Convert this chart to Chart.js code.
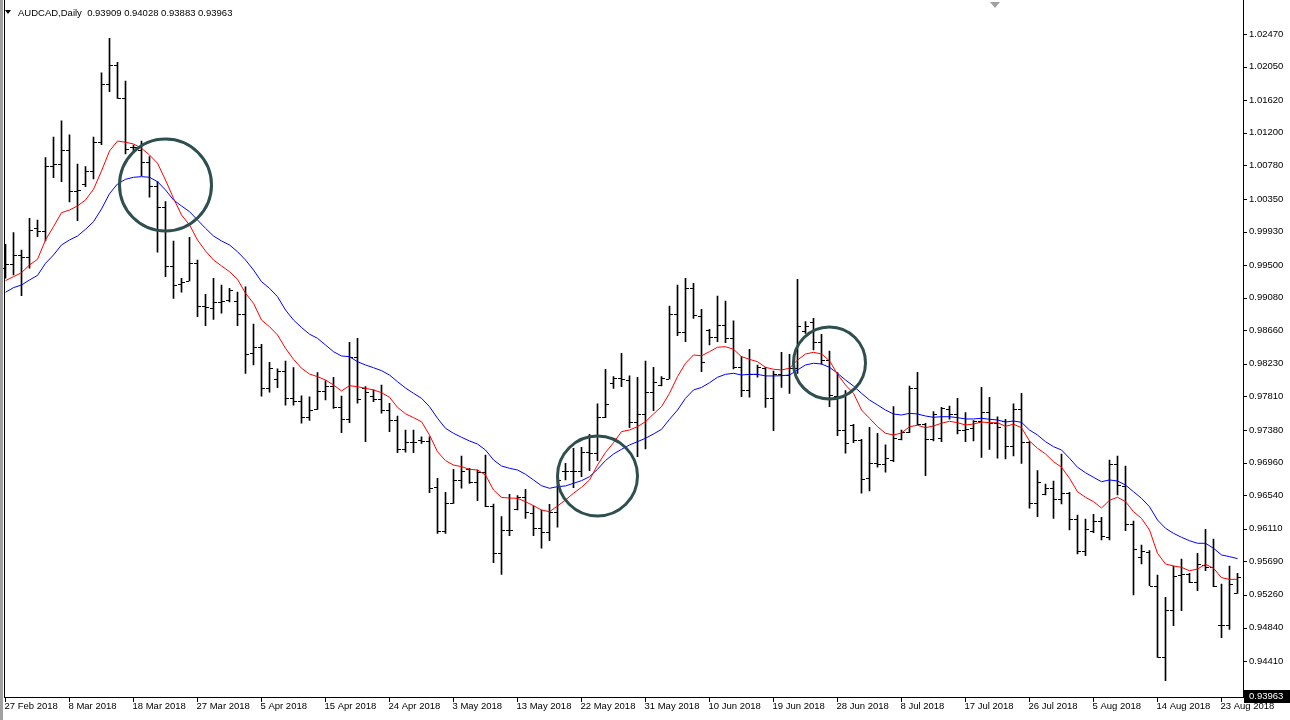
<!DOCTYPE html>
<html><head><meta charset="utf-8">
<script src="https://cdn.jsdelivr.net/npm/chart.js@4.4.1/dist/chart.umd.min.js"></script>
<style>html,body{margin:0;padding:0;background:#fff;overflow:hidden}#wrap{position:relative;width:1290px;height:720px}canvas{display:block}</style>
</head><body><div id="wrap"><canvas id="c" width="1290" height="720"></canvas></div>
<script>
// ---- data ----
const dates = [
'27 Feb 2018','28 Feb 2018','1 Mar 2018','2 Mar 2018','4 Mar 2018','5 Mar 2018','6 Mar 2018','7 Mar 2018','8 Mar 2018','9 Mar 2018',
'11 Mar 2018','12 Mar 2018','13 Mar 2018','14 Mar 2018','15 Mar 2018','16 Mar 2018','18 Mar 2018','19 Mar 2018','20 Mar 2018','21 Mar 2018',
'22 Mar 2018','23 Mar 2018','25 Mar 2018','26 Mar 2018','27 Mar 2018','28 Mar 2018','29 Mar 2018','30 Mar 2018','1 Apr 2018','2 Apr 2018',
'3 Apr 2018','4 Apr 2018','5 Apr 2018','6 Apr 2018','8 Apr 2018','9 Apr 2018','10 Apr 2018','11 Apr 2018','12 Apr 2018','13 Apr 2018',
'15 Apr 2018','16 Apr 2018','17 Apr 2018','18 Apr 2018','19 Apr 2018','20 Apr 2018','22 Apr 2018','23 Apr 2018','24 Apr 2018','25 Apr 2018',
'26 Apr 2018','27 Apr 2018','29 Apr 2018','30 Apr 2018','1 May 2018','2 May 2018','3 May 2018','4 May 2018','6 May 2018','7 May 2018',
'8 May 2018','9 May 2018','10 May 2018','11 May 2018','13 May 2018','14 May 2018','15 May 2018','16 May 2018','17 May 2018','18 May 2018',
'20 May 2018','21 May 2018','22 May 2018','23 May 2018','24 May 2018','25 May 2018','27 May 2018','28 May 2018','29 May 2018','30 May 2018',
'31 May 2018','1 Jun 2018','3 Jun 2018','4 Jun 2018','5 Jun 2018','6 Jun 2018','7 Jun 2018','8 Jun 2018','10 Jun 2018','11 Jun 2018',
'12 Jun 2018','13 Jun 2018','14 Jun 2018','15 Jun 2018','17 Jun 2018','18 Jun 2018','19 Jun 2018','20 Jun 2018','21 Jun 2018','22 Jun 2018',
'24 Jun 2018','25 Jun 2018','26 Jun 2018','27 Jun 2018','28 Jun 2018','29 Jun 2018','1 Jul 2018','2 Jul 2018','3 Jul 2018','4 Jul 2018',
'5 Jul 2018','6 Jul 2018','8 Jul 2018','9 Jul 2018','10 Jul 2018','11 Jul 2018','12 Jul 2018','13 Jul 2018','15 Jul 2018','16 Jul 2018',
'17 Jul 2018','18 Jul 2018','19 Jul 2018','20 Jul 2018','22 Jul 2018','23 Jul 2018','24 Jul 2018','25 Jul 2018','26 Jul 2018','27 Jul 2018',
'29 Jul 2018','30 Jul 2018','31 Jul 2018','1 Aug 2018','2 Aug 2018','3 Aug 2018','5 Aug 2018','6 Aug 2018','7 Aug 2018','8 Aug 2018',
'9 Aug 2018','10 Aug 2018','12 Aug 2018','13 Aug 2018','14 Aug 2018','15 Aug 2018','16 Aug 2018','17 Aug 2018','19 Aug 2018','20 Aug 2018',
'21 Aug 2018','22 Aug 2018','23 Aug 2018','24 Aug 2018','26 Aug 2018'];

const xTickLabels = ['27 Feb 2018','8 Mar 2018','18 Mar 2018','27 Mar 2018','5 Apr 2018','15 Apr 2018','24 Apr 2018','3 May 2018',
'13 May 2018','22 May 2018','31 May 2018','10 Jun 2018','19 Jun 2018','28 Jun 2018','8 Jul 2018','17 Jul 2018','26 Jul 2018',
'5 Aug 2018','14 Aug 2018','23 Aug 2018'];

const yTickValues = [1.02470,1.02050,1.01620,1.01200,1.00780,1.00350,0.99930,0.99500,0.99080,0.98660,
0.98230,0.97810,0.97380,0.96960,0.96540,0.96110,0.95690,0.95260,0.94840,0.94410];

const openP = [
0.99462,0.99509,0.99625,0.99607,0.99972,0.99934,1.00769,1.00795,1.00979,1.00448,
1.00542,1.00705,1.01078,1.01827,1.02071,1.01651,1.01021,1.00979,1.00821,1.00516,
1.00242,0.99488,0.99256,0.99295,0.99522,0.98973,0.98952,0.99025,0.99051,0.99038,
0.98867,0.98365,0.98443,0.97923,0.98035,0.98138,0.97791,0.97752,0.97543,0.97645,
0.97881,0.97945,0.97679,0.97521,0.98322,0.97915,0.97816,0.97774,0.97636,0.97508,
0.97135,0.97221,0.97251,0.97238,0.96651,0.96085,0.96437,0.96737,0.96874,0.96707,
0.96843,0.96402,0.95794,0.96094,0.96360,0.96522,0.96309,0.96116,0.96072,0.96321,
0.96852,0.96852,0.96852,0.97100,0.97088,0.97550,0.97980,0.98052,0.98022,0.97478,
0.97581,0.97864,0.97958,0.98035,0.98871,0.98639,0.99201,0.98849,0.98665,0.98571,
0.98729,0.98558,0.98185,0.97894,0.98095,0.98173,0.97795,0.98095,0.98086,0.98173,
0.98652,0.98772,0.98515,0.98279,0.97816,0.97376,0.97444,0.97251,0.96759,0.96959,
0.96942,0.96994,0.97264,0.97354,0.97915,0.97453,0.97260,0.97277,0.97645,0.97585,
0.97379,0.97401,0.97495,0.97607,0.97466,0.97491,0.97178,0.97645,0.97229,0.96437,
0.96553,0.96630,0.96492,0.96566,0.96231,0.95828,0.96085,0.96213,0.96008,0.96938,
0.96660,0.96167,0.95743,0.95815,0.95378,0.94457,0.95065,0.95515,0.95528,0.95429,
0.95644,0.95622,0.94873,0.94873,0.95288];

const highP = [
0.99767,0.99916,0.99693,1.00101,1.00079,1.00880,1.01146,1.01352,1.01172,1.00799,
1.00764,1.01146,1.01972,1.02415,1.02106,1.01866,1.01043,1.01094,1.00893,1.00571,
1.00314,0.99809,0.99330,0.99857,0.99565,0.99124,0.99330,0.99243,0.99201,0.99153,
0.99218,0.98742,0.98481,0.98250,0.98164,0.98266,0.98180,0.97820,0.97807,0.98116,
0.98013,0.98057,0.97816,0.98507,0.98558,0.97936,0.97894,0.97958,0.97723,0.97559,
0.97379,0.97379,0.97293,0.97293,0.96759,0.96579,0.96874,0.97045,0.96887,0.96865,
0.97058,0.96428,0.96265,0.96553,0.96535,0.96617,0.96406,0.96351,0.96424,0.96779,
0.96951,0.97144,0.97157,0.97324,0.97714,0.98160,0.98065,0.98365,0.98074,0.98057,
0.98266,0.98185,0.98065,0.98973,0.99243,0.99330,0.99265,0.98931,0.98674,0.99102,
0.99038,0.98784,0.98322,0.98417,0.98215,0.98185,0.98138,0.98378,0.98353,0.99317,
0.98772,0.98815,0.98610,0.98395,0.98116,0.97885,0.97453,0.97260,0.97414,0.97337,
0.97187,0.97679,0.97379,0.97945,0.98121,0.97466,0.97615,0.97671,0.97688,0.97787,
0.97602,0.97499,0.97928,0.97800,0.97550,0.97517,0.97714,0.97851,0.97229,0.96856,
0.96685,0.96724,0.97071,0.96579,0.96287,0.96235,0.96296,0.96257,0.96994,0.97045,
0.96917,0.96210,0.95901,0.95828,0.95515,0.95229,0.95631,0.95721,0.95537,0.95794,
0.96103,0.95978,0.95400,0.95631,0.95537];

const lowP = [
0.99330,0.99372,0.99106,0.99458,0.99864,0.99809,1.00623,1.00571,1.00310,1.00070,
1.00507,1.00606,1.01047,1.01728,1.01643,1.00927,1.00970,1.00648,1.00371,0.99664,
0.99350,0.99072,0.99150,0.99295,0.98836,0.98720,0.98802,0.98880,0.99025,0.98720,
0.98108,0.98215,0.97813,0.97864,0.97923,0.97697,0.97697,0.97466,0.97502,0.97645,
0.97765,0.97658,0.97345,0.97473,0.97723,0.97229,0.97743,0.97594,0.97358,0.97088,
0.97094,0.97088,0.97208,0.96573,0.96051,0.96051,0.96437,0.96630,0.96694,0.96471,
0.96393,0.95674,0.95524,0.96021,0.96351,0.96244,0.96021,0.95859,0.95956,0.96129,
0.96737,0.96638,0.96779,0.96856,0.96985,0.97538,0.97915,0.97936,0.97409,0.97036,
0.97135,0.97628,0.97945,0.98035,0.98592,0.98515,0.98815,0.98129,0.98472,0.98515,
0.98502,0.98164,0.97807,0.97800,0.98057,0.97671,0.97370,0.97928,0.97851,0.98108,
0.98622,0.98408,0.98224,0.97679,0.97306,0.97080,0.97216,0.96566,0.96595,0.96900,
0.96836,0.96972,0.97251,0.97345,0.97444,0.96792,0.97238,0.97229,0.97517,0.97328,
0.97229,0.97238,0.97028,0.97131,0.97016,0.97007,0.97045,0.96951,0.96373,0.96265,
0.96544,0.96244,0.96428,0.96094,0.95785,0.95764,0.96059,0.95965,0.95965,0.96544,
0.96085,0.95258,0.95657,0.95378,0.94457,0.94157,0.94864,0.95057,0.95416,0.95314,
0.95571,0.95365,0.94709,0.94817,0.95280];

const closeP = [
0.99509,0.99625,0.99607,0.99950,0.99934,1.00769,1.00795,1.00979,1.00448,1.00465,
1.00705,1.01078,1.01827,1.02071,1.01651,1.00992,1.01021,1.00821,1.00516,1.00242,
0.99488,0.99243,0.99286,0.99522,0.98973,0.98961,0.99025,0.99038,0.99175,0.98867,
0.98353,0.98443,0.97923,0.98180,0.98142,0.97791,0.97752,0.97543,0.97636,0.97881,
0.97945,0.97679,0.97521,0.98314,0.97774,0.97872,0.97774,0.97636,0.97508,0.97135,
0.97229,0.97221,0.97238,0.96638,0.96085,0.96437,0.96737,0.96856,0.96707,0.96843,
0.96402,0.95794,0.96094,0.96094,0.96522,0.96325,0.96116,0.96072,0.96321,0.96737,
0.96852,0.96852,0.97100,0.97088,0.97543,0.97710,0.98052,0.98035,0.97478,0.97581,
0.97864,0.98000,0.98044,0.98871,0.98639,0.99201,0.98858,0.98250,0.98571,0.98729,
0.98558,0.98185,0.97894,0.98095,0.98193,0.97795,0.98095,0.98086,0.98173,0.98716,
0.98716,0.98515,0.98279,0.97829,0.97376,0.97208,0.97251,0.96746,0.96959,0.96942,
0.97016,0.97273,0.97358,0.97915,0.97453,0.97260,0.97581,0.97666,0.97585,0.97379,
0.97388,0.97495,0.97607,0.97466,0.97422,0.97178,0.97645,0.97229,0.96437,0.96707,
0.96630,0.96492,0.96566,0.96231,0.95828,0.96103,0.96213,0.96017,0.96938,0.96672,
0.96167,0.95846,0.95824,0.95378,0.94457,0.95065,0.95503,0.95524,0.95429,0.95657,
0.95622,0.95374,0.94873,0.95400,0.95494];

// red moving average (fast)
const maFast = [
0.99299,0.99350,0.99401,0.99500,0.99574,0.99822,0.99993,1.00173,1.00207,1.00259,
1.00336,1.00474,1.00709,1.00966,1.01094,1.01078,1.01056,1.01001,1.00915,1.00808,
1.00593,1.00358,1.00143,1.00015,0.99822,0.99680,0.99565,0.99488,0.99414,0.99317,
0.99137,0.99008,0.98793,0.98707,0.98601,0.98430,0.98288,0.98173,0.98099,0.98065,
0.98022,0.97958,0.97881,0.97949,0.97936,0.97915,0.97894,0.97859,0.97800,0.97671,
0.97588,0.97538,0.97486,0.97315,0.97100,0.96985,0.96929,0.96908,0.96874,0.96865,
0.96801,0.96608,0.96512,0.96505,0.96501,0.96458,0.96406,0.96351,0.96329,0.96402,
0.96480,0.96566,0.96643,0.96737,0.96929,0.97090,0.97216,0.97358,0.97379,0.97422,
0.97486,0.97585,0.97679,0.97851,0.98065,0.98237,0.98344,0.98333,0.98386,0.98443,
0.98450,0.98417,0.98322,0.98288,0.98257,0.98185,0.98160,0.98151,0.98173,0.98279,
0.98356,0.98378,0.98356,0.98270,0.98095,0.97958,0.97851,0.97636,0.97530,0.97422,
0.97337,0.97315,0.97341,0.97422,0.97440,0.97409,0.97431,0.97466,0.97491,0.97473,
0.97444,0.97456,0.97482,0.97473,0.97473,0.97427,0.97453,0.97409,0.97238,0.97144,
0.97071,0.96972,0.96900,0.96759,0.96586,0.96514,0.96458,0.96377,0.96476,0.96514,
0.96458,0.96329,0.96244,0.96094,0.95794,0.95657,0.95631,0.95614,0.95570,0.95592,
0.95653,0.95602,0.95481,0.95460,0.95460];

// blue moving average (slow)
const maSlow = [
0.99150,0.99209,0.99243,0.99308,0.99366,0.99522,0.99629,0.99758,0.99822,0.99873,
0.99959,1.00057,1.00220,1.00417,1.00542,1.00602,1.00628,1.00636,1.00628,1.00571,
1.00465,1.00336,1.00259,1.00186,1.00079,0.99972,0.99873,0.99809,0.99758,0.99671,
0.99565,0.99436,0.99286,0.99201,0.99093,0.98922,0.98793,0.98697,0.98611,0.98558,
0.98472,0.98386,0.98331,0.98322,0.98257,0.98215,0.98180,0.98142,0.98086,0.98000,
0.97919,0.97851,0.97787,0.97679,0.97530,0.97401,0.97337,0.97286,0.97238,0.97199,
0.97122,0.96994,0.96917,0.96887,0.96865,0.96810,0.96737,0.96663,0.96630,0.96651,
0.96660,0.96694,0.96728,0.96779,0.96874,0.96987,0.97071,0.97131,0.97187,0.97229,
0.97273,0.97328,0.97388,0.97517,0.97636,0.97787,0.97894,0.97926,0.97987,0.98057,
0.98095,0.98108,0.98086,0.98095,0.98095,0.98074,0.98074,0.98077,0.98086,0.98151,
0.98215,0.98237,0.98228,0.98185,0.98108,0.98022,0.97945,0.97851,0.97765,0.97701,
0.97636,0.97585,0.97572,0.97594,0.97585,0.97559,0.97543,0.97550,0.97550,0.97538,
0.97521,0.97521,0.97530,0.97517,0.97508,0.97482,0.97495,0.97478,0.97379,0.97315,
0.97229,0.97165,0.97122,0.97016,0.96900,0.96830,0.96771,0.96715,0.96737,0.96724,
0.96672,0.96586,0.96501,0.96393,0.96222,0.96116,0.96051,0.96000,0.95956,0.95923,
0.95923,0.95859,0.95773,0.95751,0.95726];

const symbolTitle = 'AUDCAD,Daily';
const titleOHLC = ['0.93909','0.94028','0.93883','0.93963'];
const lastPrice = 0.93963;
// hand-drawn circles: centred on a bar index and a price, radius in px
const circleBars = [20, 74, 103];
const circlePrices = [1.00529, 0.96788, 0.98241];
const circleRadii = [46, 40, 36];

// ---- chart ----
const FONT = "'Liberation Sans', Arial, sans-serif";
const FSIZE = 9.5;
Chart.defaults.font.family = FONT;
Chart.defaults.font.size = FSIZE;
Chart.defaults.color = '#000';

const ranges = dates.map((d, i) => [lowP[i], highP[i]]);

const ohlcTicks = {
  id: 'ohlcTicks',
  afterDatasetDraw(chart, args) {
    if (args.index !== 2) return;
    const ctx = chart.ctx, xs = chart.scales.x, ys = chart.scales.y;
    ctx.save();
    ctx.fillStyle = '#000';
    for (let i = 0; i < dates.length; i++) {
      const x = Math.floor(xs.getPixelForValue(i));
      const yo = Math.round(ys.getPixelForValue(openP[i]));
      const yc = Math.round(ys.getPixelForValue(closeP[i]));
      ctx.fillRect(x - 3, yo, 3, 1);
      ctx.fillRect(x + 1, yc, 3, 1);
    }
    ctx.restore();
  }
};

const overlay = {
  id: 'overlay',
  afterDatasetsDraw(chart) {
    const ctx = chart.ctx, xs = chart.scales.x, ys = chart.scales.y;
    ctx.save();
    ctx.strokeStyle = '#2f4f4f';
    ctx.lineWidth = 3;
    for (let k = 0; k < circleBars.length; k++) {
      ctx.beginPath();
      ctx.arc(xs.getPixelForValue(circleBars[k]), ys.getPixelForValue(circlePrices[k]), circleRadii[k], 0, Math.PI * 2);
      ctx.stroke();
    }
    ctx.restore();
  },
  afterDraw(chart) {
    const ctx = chart.ctx, xs = chart.scales.x, ys = chart.scales.y;
    const axisX = 1243, axisY = 697;
    ctx.save();
    // window frame
    ctx.fillStyle = '#a0a0a0';
    ctx.fillRect(0, 0, 3, 720);
    ctx.fillStyle = '#000';
    ctx.fillRect(4, 0, 1, axisY);
    ctx.fillRect(axisX, 0, 1, axisY);
    ctx.fillRect(4, axisY, 1286, 1);
    // y ticks
    yTickValues.forEach(v => {
      const y = Math.round(ys.getPixelForValue(v));
      ctx.fillRect(axisX + 1, y, 3, 1);
    });
    // x ticks
    dates.forEach((d, i) => {
      if (xTickLabels.includes(d)) {
        const x = Math.floor(xs.getPixelForValue(i));
        ctx.fillRect(x, axisY + 1, 1, 4);
      }
    });
    // current price label
    const yp = Math.round(ys.getPixelForValue(lastPrice));
    ctx.fillRect(axisX + 1, yp - 6, 46, 13);
    ctx.fillStyle = '#fff';
    ctx.font = FSIZE + 'px ' + FONT;
    ctx.textBaseline = 'middle';
    ctx.textAlign = 'left';
    ctx.fillText(lastPrice.toFixed(5), 1249, yp + 0.5);
    // title
    ctx.fillStyle = '#000';
    ctx.beginPath();
    ctx.moveTo(5, 10); ctx.lineTo(11, 10); ctx.lineTo(8, 14); ctx.closePath();
    ctx.fill();
    ctx.fillText(symbolTitle + '  ' + titleOHLC.join(' '), 18, 13);
    // chart-shift marker
    ctx.fillStyle = '#a0a0a0';
    ctx.beginPath();
    ctx.moveTo(990, 2); ctx.lineTo(1000, 2); ctx.lineTo(995, 8); ctx.closePath();
    ctx.fill();
    ctx.restore();
  }
};

new Chart(document.getElementById('c').getContext('2d'), {
  type: 'bar',
  data: {
    labels: dates,
    datasets: [
      { type: 'line', label: 'MA fast', data: maFast, borderColor: '#ff0000', borderWidth: 1, pointRadius: 0, tension: 0, order: 0 },
      { type: 'line', label: 'MA slow', data: maSlow, borderColor: '#0000ff', borderWidth: 1, pointRadius: 0, tension: 0, order: 1 },
      { type: 'bar', label: 'AUDCAD', data: ranges, backgroundColor: '#000', barThickness: 1, borderWidth: 0, borderSkipped: false, order: 2 }
    ]
  },
  options: {
    responsive: false, animation: false, devicePixelRatio: 1,
    layout: { padding: { left: 1.5, top: 2, right: 0, bottom: 0 } },
    plugins: { legend: { display: false }, tooltip: { enabled: false }, title: { display: false } },
    scales: {
      x: {
        type: 'category', offset: true,
        grid: { display: false, drawTicks: false }, border: { display: false },
        ticks: { autoSkip: false, maxRotation: 0, minRotation: 0, align: 'start', padding: 4, labelOffset: -1,
                 callback: (v, i) => xTickLabels.includes(dates[i]) ? dates[i] : '' },
        afterFit: s => { s.height = 23; s.paddingLeft = 0; s.paddingRight = 0; }
      },
      y: {
        position: 'right', min: 0.93947, max: 1.02881,
        grid: { display: false, drawTicks: false }, border: { display: false },
        afterBuildTicks: s => { s.ticks = yTickValues.map(v => ({ value: v })); },
        ticks: { padding: 7.5, callback: v => Number(v).toFixed(5) },
        afterFit: s => { s.width = 48.5; s.paddingTop = 0; s.paddingBottom = 0; }
      }
    }
  },
  plugins: [ohlcTicks, overlay]
});
</script>
</body></html>
